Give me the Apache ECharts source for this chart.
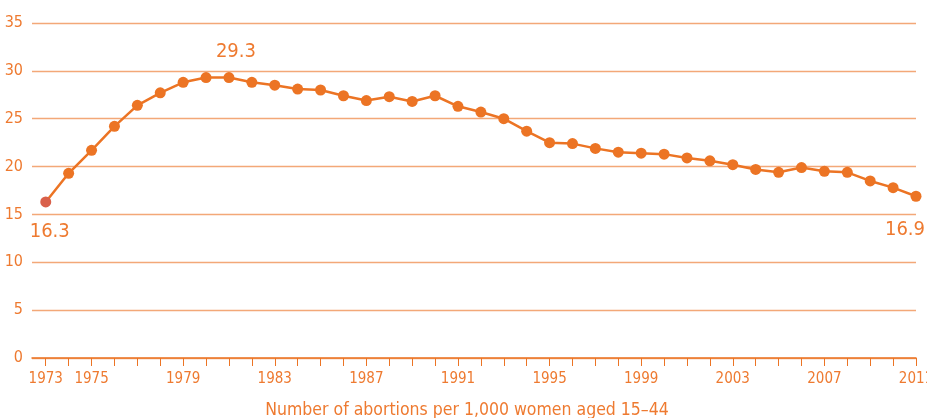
<!DOCTYPE html>
<html>
<head>
<meta charset="utf-8">
<script src="https://cdn.jsdelivr.net/npm/echarts@6/dist/echarts.min.js"></script>
<style>html,body{margin:0;padding:0;background:#fff}#c{width:927px;height:418px}</style>
</head>
<body>
<div id="c"></div>
<script>
var years = [1973,1974,1975,1976,1977,1978,1979,1980,1981,1982,1983,1984,1985,1986,1987,1988,1989,1990,1991,1992,1993,1994,1995,1996,1997,1998,1999,2000,2001,2002,2003,2004,2005,2006,2007,2008,2009,2010,2011];
var rates = [16.3,19.3,21.7,24.2,26.4,27.7,28.8,29.3,29.3,28.8,28.5,28.1,28.0,27.4,26.9,27.3,26.8,27.4,26.3,25.7,25.0,23.7,22.5,22.4,21.9,21.5,21.4,21.3,20.9,20.6,20.2,19.7,19.4,19.9,19.5,19.4,18.5,17.8,16.9];
var xLabelYears = [1973,1975,1979,1983,1987,1991,1995,1999,2003,2007,2011];
var yTicks = [0,5,10,15,20,25,30,35];
var labelledYears = [1973,1981,2011];
var titleText = 'Number of abortions per 1,000 women aged 15–44';

var ORANGE = '#EC7424';
var TEXT = '#EE7A30';
var GRID = '#F3A878';
var FONT = '"Liberation Sans Narrow","DejaVu Sans Condensed",sans-serif';

var data = years.map(function (y, i) {
  var item = { value: [y, rates[i]] };
  if (i === 0) item.itemStyle = { color: '#D9604A' };
  if (labelledYears.indexOf(y) >= 0) {
    var below = (y !== 1981);
    item.label = {
      show: true,
      position: below ? 'bottom' : 'top',
      distance: y === 2011 ? 18 : (below ? 14 : 10),
      offset: y === 2011 ? [-11, 0] : (y === 1973 ? [4, 0] : [7, 0]),
      formatter: String(rates[i]),
      color: TEXT,
      fontFamily: FONT,
      fontSize: 20
    };
  }
  return item;
});

var chart = echarts.init(document.getElementById('c'), null, { renderer: 'canvas' });
chart.setOption({
  animation: false,
  title: {
    text: titleText,
    left: 462,
    textAlign: 'center',
    top: 396,
    textStyle: { color: TEXT, fontFamily: FONT, fontSize: 17.5, fontWeight: 'normal' }
  },
  grid: { left: 32, right: 11, top: 23, bottom: 60, containLabel: false, outerBoundsMode: 'none' },
  xAxis: {
    type: 'value',
    min: 1972.4,
    max: 2011,
    axisLine: { show: true, lineStyle: { color: ORANGE, width: 1.5 } },
    axisTick: { show: true, customValues: years, length: 8, lineStyle: { color: ORANGE, width: 1 } },
    axisLabel: {
      customValues: xLabelYears,
      color: TEXT, fontFamily: FONT, fontSize: 15, margin: 14,
      formatter: function (v) { return String(v); }
    },
    splitLine: { show: false }
  },
  yAxis: {
    type: 'value',
    min: 0,
    max: 35,
    interval: 5,
    axisLine: { show: false },
    axisTick: { show: false },
    axisLabel: { color: TEXT, fontFamily: FONT, fontSize: 16, margin: 9 },
    splitLine: { show: true, lineStyle: { color: GRID, width: 1.3 } }
  },
  series: [{
    type: 'line',
    data: data,
    symbol: 'circle',
    symbolSize: 11,
    lineStyle: { color: ORANGE, width: 2.5 },
    itemStyle: { color: ORANGE },
    z: 3
  }]
});
</script>
</body>
</html>
